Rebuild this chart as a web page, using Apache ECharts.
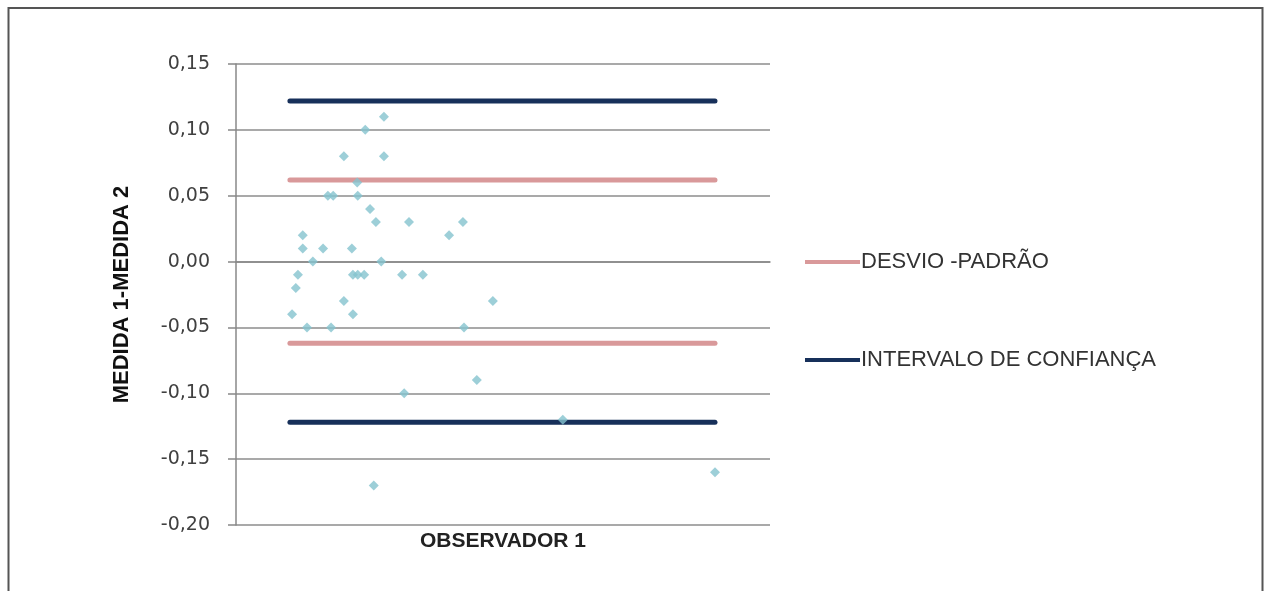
<!DOCTYPE html>
<html>
<head>
<meta charset="utf-8">
<script src="https://cdn.jsdelivr.net/npm/echarts@6/dist/echarts.min.js"></script>
<style>
html,body{margin:0;padding:0;background:#fff;}
#chart{width:1264px;height:591px;}
</style>
</head>
<body>
<div id="chart"></div>
<script>
// ---- data ----
var yTicks = [-0.20, -0.15, -0.10, -0.05, 0.00, 0.05, 0.10, 0.15];
var pointX = [27.7, 24.2, 20.2, 27.7, 22.7, 17.2, 18.2, 22.8, 25.1, 26.2, 32.4, 42.5, 39.9, 12.5,
              12.5, 16.3, 21.7, 14.4, 27.2, 11.6, 21.9, 22.8, 24.0, 31.1, 35.0, 11.2, 10.5, 20.2,
              21.9, 48.1, 13.3, 17.8, 42.7, 45.1, 31.5, 25.8, 61.2, 89.7];
var pointY = [0.11, 0.10, 0.08, 0.08, 0.06, 0.05, 0.05, 0.05, 0.04, 0.03, 0.03, 0.03, 0.02, 0.02,
              0.01, 0.01, 0.01, 0.00, 0.00, -0.01, -0.01, -0.01, -0.01, -0.01, -0.01, -0.02, -0.04, -0.03,
              -0.04, -0.03, -0.05, -0.05, -0.05, -0.09, -0.10, -0.17, -0.12, -0.16];
var lineXRange = [10.1, 89.7];
var sdLimits = [0.062, -0.062];
var ciLimits = [0.122, -0.122];
var sdName = 'DESVIO -PADRÃO';
var ciName = 'INTERVALO DE CONFIANÇA';
var xName = 'OBSERVADOR 1';
var yName = 'MEDIDA 1-MEDIDA 2';

// ---- build ----
var scatterData = pointX.map(function (x, i) { return [x, pointY[i]]; });
function seg(v) { return [[lineXRange[0], v], [lineXRange[1], v]]; }
function lineSeries(name, v, color) {
  return {
    name: name, type: 'line', data: seg(v), symbol: 'none', silent: true,
    lineStyle: { color: color, width: 5, cap: 'round' }, itemStyle: { color: color }, z: 2
  };
}
var pink = '#D9999A', navy = '#17305A';
var series = [];
sdLimits.forEach(function (v) { series.push(lineSeries(sdName, v, pink)); });
ciLimits.forEach(function (v) { series.push(lineSeries(ciName, v, navy)); });
series.push({
  name: 'pontos', type: 'scatter', data: scatterData, symbol: 'diamond', symbolSize: 10,
  itemStyle: { color: '#84C3CE' }, z: 5
});

var chart = echarts.init(document.getElementById('chart'));
chart.setOption({
  backgroundColor: '#fff',
  animation: false,
  graphic: [{
    type: 'rect', shape: { x: 8.5, y: 8, width: 1254, height: 600 },
    style: { fill: 'none', stroke: '#555', lineWidth: 2 }, silent: true
  }],
  grid: { left: 236, right: 494, top: 64, bottom: 66 },
  legend: {
    data: [sdName, ciName], orient: 'vertical', left: 800, top: 246,
    itemWidth: 55, itemHeight: 4, itemGap: 76, icon: 'rect',
    textStyle: { fontFamily: 'Liberation Sans, Arial, sans-serif', fontSize: 22, color: '#333', padding: [0, 0, 0, -4] }
  },
  xAxis: {
    type: 'value', min: 0, max: 100,
    name: xName, nameLocation: 'middle', nameGap: 6,
    nameTextStyle: { fontFamily: 'Liberation Sans, Arial, sans-serif', fontSize: 21, fontWeight: 'bold', color: '#222', verticalAlign: 'top' },
    axisLine: { show: true, lineStyle: { color: '#888', width: 1.5 } },
    axisTick: { show: false }, axisLabel: { show: false }, splitLine: { show: false }
  },
  yAxis: {
    type: 'value', min: yTicks[0], max: yTicks[yTicks.length - 1], interval: 0.05,
    name: yName, nameLocation: 'middle', nameRotate: 90, nameGap: 103,
    nameTextStyle: { fontFamily: 'Liberation Sans, Arial, sans-serif', fontSize: 22, fontWeight: 'bold', color: '#111' },
    axisLine: { show: true, lineStyle: { color: '#888', width: 1.5 } },
    axisTick: { show: true, length: 8, lineStyle: { color: '#888', width: 1.5 } },
    axisLabel: {
      margin: 26, fontFamily: 'DejaVu Sans, sans-serif', fontSize: 19, color: '#404040',
      formatter: function (v) { return v.toFixed(2).replace('.', ','); }
    },
    splitLine: { show: true, lineStyle: { color: '#8c8c8c', width: 1.5 } }
  },
  series: series
});
</script>
</body>
</html>
